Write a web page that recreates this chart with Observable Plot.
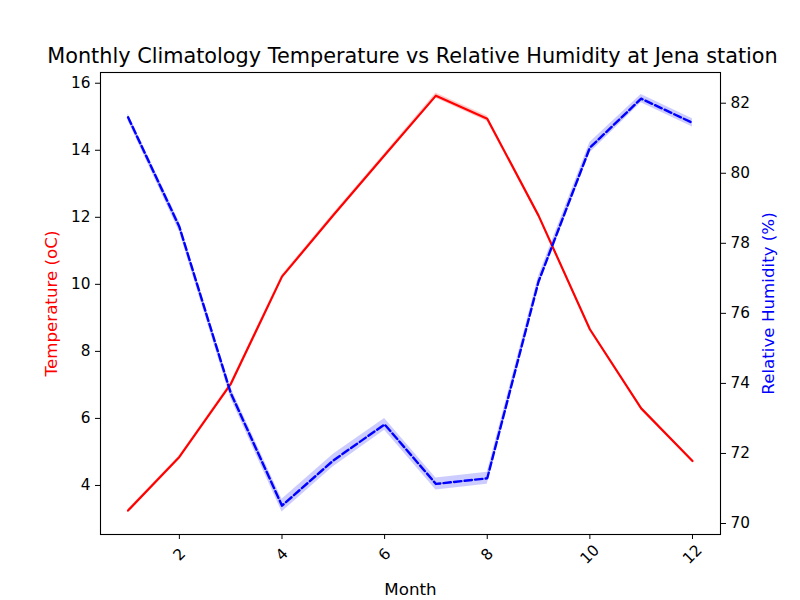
<!DOCTYPE html>
<html>
<head>
<meta charset="utf-8">
<script src="https://cdn.jsdelivr.net/npm/d3@7"></script>
<script src="https://cdn.jsdelivr.net/npm/@observablehq/plot@0.6"></script>
<style>
  html, body { margin: 0; padding: 0; background: #fff; }
  #chart svg { display: block; font-family: 'DejaVu Sans', sans-serif; }
  #chart svg text { font-family: 'DejaVu Sans', sans-serif; }
</style>
</head>
<body>
<div id="chart"></div>
<script>
// Monthly climatology at Jena: mean temperature and relative humidity with 95% CI
const months = [1, 2, 3, 4, 5, 6, 7, 8, 9, 10, 11, 12];
const temperature = [3.25, 4.85, 7.02, 10.23, 12.06, 13.85, 15.63, 14.94, 12.05, 8.66, 6.30, 4.73];
const temperatureCI = [0.04, 0.04, 0.05, 0.05, 0.05, 0.05, 0.08, 0.08, 0.05, 0.05, 0.04, 0.04];
const humidity = [81.6, 78.47, 73.73, 70.51, 71.8, 72.83, 71.13, 71.29, 76.91, 80.73, 82.13, 81.44];
const humidityCI = [0.1, 0.14, 0.15, 0.18, 0.18, 0.17, 0.17, 0.17, 0.15, 0.15, 0.12, 0.12];
const monthTicks = [2, 4, 6, 8, 10, 12];
const temperatureTicks = [4, 6, 8, 10, 12, 14, 16];
const humidityTicks = [70, 72, 74, 76, 78, 80, 82];

const monthDomain = [0.463, 12.546];
const tempDomain = [2.537, 16.32];
const humDomain = [69.686, 82.877];

// Humidity is drawn on the temperature scale via a linear twin-axis mapping
const h2t = d3.scaleLinear().domain(humDomain).range(tempDomain);
const t2h = h2t.invert;

const rows = months.map((m, i) => ({
  month: m,
  temp: temperature[i],
  tLo: temperature[i] - temperatureCI[i],
  tHi: temperature[i] + temperatureCI[i],
  hum: h2t(humidity[i]),
  hLo: h2t(humidity[i] - humidityCI[i]),
  hHi: h2t(humidity[i] + humidityCI[i])
}));

const font = "'DejaVu Sans', sans-serif";
const tickSize = 15.3;   // 11pt
const labelSize = 16.7;  // 12pt
const titleSize = 20.8;  // 15pt

const chart = Plot.plot({
  width: 800,
  height: 600,
  marginLeft: 100,
  marginRight: 80,
  marginTop: 72,
  marginBottom: 66,
  style: { fontFamily: font, fontSize: tickSize + "px", background: "#fff", color: "#000" },
  x: { domain: monthDomain, axis: null },
  y: { domain: tempDomain, axis: null },
  marks: [
    // confidence bands
    Plot.areaY(rows, { x: "month", y1: "tLo", y2: "tHi", fill: "red", fillOpacity: 0.2 }),
    Plot.areaY(rows, { x: "month", y1: "hLo", y2: "hHi", fill: "blue", fillOpacity: 0.2 }),
    // mean lines
    Plot.lineY(rows, { x: "month", y: "temp", stroke: "red", strokeWidth: 2.2 }),
    Plot.lineY(rows, { x: "month", y: "hum", stroke: "blue", strokeWidth: 2.4, strokeDasharray: "7.4,3.2" }),
    // axes
    Plot.axisX({ ticks: monthTicks, tickSize: 5, tickFormat: () => "", label: null }),
    Plot.text(monthTicks, {
      x: d => d, text: d => String(d), frameAnchor: "bottom", dy: 20,
      rotate: -45, textAnchor: "middle", lineAnchor: "middle", fontSize: tickSize, fontFamily: font
    }),
    Plot.axisY({ ticks: temperatureTicks, anchor: "left", tickSize: 5, tickPadding: 5, label: null, fontSize: tickSize, fontFamily: font }),
    Plot.axisY({
      ticks: humidityTicks.map(h2t), anchor: "right", tickSize: 5, tickPadding: 5, label: null,
      fontSize: tickSize, fontFamily: font,
      tickFormat: t => String(Math.round(t2h(t)))
    }),
    Plot.frame({ stroke: "#000", strokeWidth: 1.1 }),
    // axis titles
    Plot.text(["Month"], { frameAnchor: "bottom", dy: 55.5, lineAnchor: "middle", fontSize: labelSize, fontFamily: font }),
    Plot.text(["Temperature (oC)"], {
      frameAnchor: "left", dx: -49, rotate: -90, textAnchor: "middle", lineAnchor: "middle",
      fill: "red", fontSize: labelSize, fontFamily: font
    }),
    Plot.text(["Relative Humidity (%)"], {
      frameAnchor: "right", dx: 48, rotate: -90, textAnchor: "middle", lineAnchor: "middle",
      fill: "blue", fontSize: labelSize, fontFamily: font
    }),
    // chart title
    Plot.text(["Monthly Climatology Temperature vs Relative Humidity at Jena station"], {
      frameAnchor: "top", dx: 2, dy: -16, lineAnchor: "middle", fontSize: titleSize, fontFamily: font
    })
  ]
});

document.getElementById("chart").appendChild(chart);
</script>
</body>
</html>
